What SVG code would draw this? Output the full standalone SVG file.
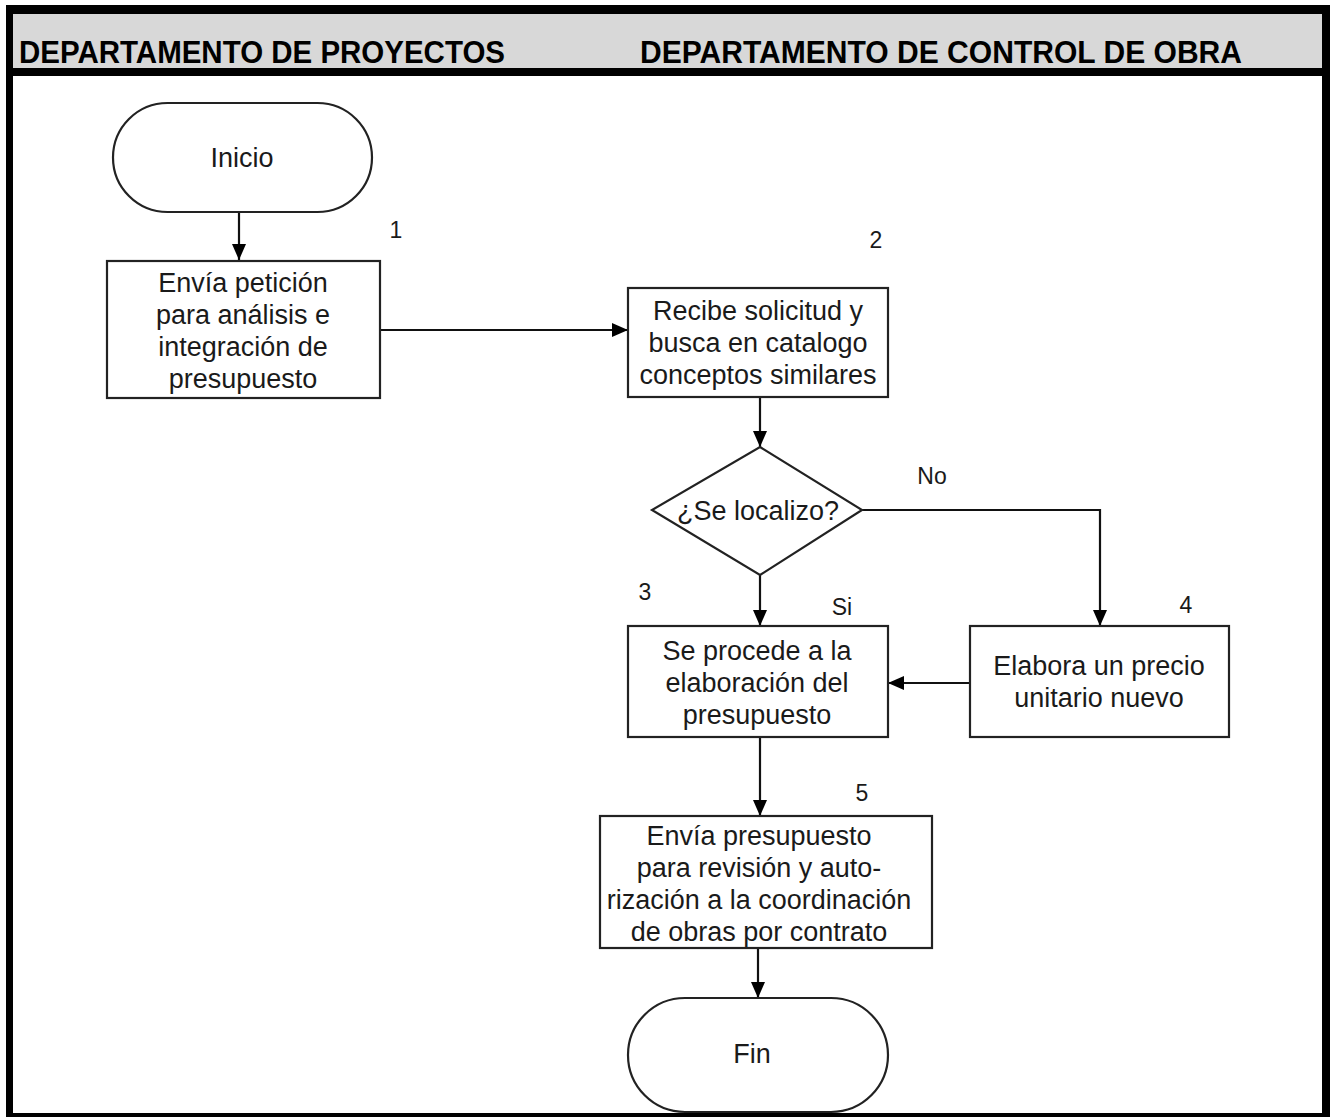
<svg xmlns="http://www.w3.org/2000/svg" width="1330" height="1117" viewBox="0 0 1330 1117">
  <style>
    .lane { font-family: "Liberation Sans", Arial, sans-serif; font-weight: bold; font-size: 31px; fill: #000; }
    .lbl { font-family: "Liberation Sans", Arial, sans-serif; font-size: 27px; fill: #1a1a1a; text-anchor: middle; }
    .num { font-family: "Liberation Sans", Arial, sans-serif; font-size: 23px; fill: #1a1a1a; text-anchor: middle; }
    .shape { fill: #fff; stroke: #222; stroke-width: 2.2; }
    .wire { fill: none; stroke: #111; stroke-width: 2.2; }
  </style>
  <defs>
    <marker id="arrow" viewBox="0 0 16 14" refX="16" refY="7" markerWidth="16" markerHeight="14" markerUnits="userSpaceOnUse" orient="auto">
      <path d="M0,0 L16,7 L0,14 Z" fill="#000"/>
    </marker>
  </defs>

  <!-- frame and lane header -->
  <g id="frame">
    <rect x="6" y="5" width="1330" height="1120" fill="#000"/>
    <rect x="13" y="14" width="1309" height="54" fill="#d8d8d8"/>
    <rect x="13" y="76" width="1309" height="1037" fill="#fff"/>
    <text class="lane" x="19" y="63" textLength="486" lengthAdjust="spacingAndGlyphs">DEPARTAMENTO DE PROYECTOS</text>
    <text class="lane" x="640" y="63" textLength="602" lengthAdjust="spacingAndGlyphs">DEPARTAMENTO DE CONTROL DE OBRA</text>
  </g>

  <!-- connectors -->
  <g id="connectors">
    <line class="wire" x1="239" y1="212" x2="239" y2="260" marker-end="url(#arrow)"/>
    <line class="wire" x1="380" y1="330" x2="628" y2="330" marker-end="url(#arrow)"/>
    <line class="wire" x1="760" y1="397" x2="760" y2="447" marker-end="url(#arrow)"/>
    <polyline class="wire" points="862,510 1100,510 1100,626" marker-end="url(#arrow)"/>
    <line class="wire" x1="760" y1="575" x2="760" y2="626" marker-end="url(#arrow)"/>
    <line class="wire" x1="970" y1="683" x2="888" y2="683" marker-end="url(#arrow)"/>
    <line class="wire" x1="760" y1="737" x2="760" y2="816" marker-end="url(#arrow)"/>
    <line class="wire" x1="758" y1="948" x2="758" y2="998" marker-end="url(#arrow)"/>
    <text class="num" x="932" y="484">No</text>
    <text class="num" x="842" y="615">Si</text>
  </g>

  <g id="inicio">
    <rect class="shape" x="113" y="103" width="259" height="109" rx="54.5" ry="54.5"/>
    <text class="lbl" x="242" y="167">Inicio</text>
  </g>

  <g id="paso1">
    <rect class="shape" x="107" y="261" width="273" height="137"/>
    <text class="lbl" x="243" y="292">Envía petición</text>
    <text class="lbl" x="243" y="324">para análisis e</text>
    <text class="lbl" x="243" y="356">integración de</text>
    <text class="lbl" x="243" y="388">presupuesto</text>
    <text class="num" x="396" y="238">1</text>
  </g>

  <g id="paso2">
    <rect class="shape" x="628" y="288" width="260" height="109"/>
    <text class="lbl" x="758" y="320">Recibe solicitud y</text>
    <text class="lbl" x="758" y="352">busca en catalogo</text>
    <text class="lbl" x="758" y="384">conceptos similares</text>
    <text class="num" x="876" y="248">2</text>
  </g>

  <g id="decision">
    <polygon class="shape" points="760,447 862,510 760,575 652,510"/>
    <text class="lbl" x="758" y="520">¿Se localizo?</text>
  </g>

  <g id="paso3">
    <rect class="shape" x="628" y="626" width="260" height="111"/>
    <text class="lbl" x="757" y="660">Se procede a la</text>
    <text class="lbl" x="757" y="692">elaboración del</text>
    <text class="lbl" x="757" y="724">presupuesto</text>
    <text class="num" x="645" y="600">3</text>
  </g>

  <g id="paso4">
    <rect class="shape" x="970" y="626" width="259" height="111"/>
    <text class="lbl" x="1099" y="675">Elabora un precio</text>
    <text class="lbl" x="1099" y="707">unitario nuevo</text>
    <text class="num" x="1186" y="613">4</text>
  </g>

  <g id="paso5">
    <rect class="shape" x="600" y="816" width="332" height="132"/>
    <text class="lbl" x="759" y="845">Envía presupuesto</text>
    <text class="lbl" x="759" y="877">para revisión y auto-</text>
    <text class="lbl" x="759" y="909">rización a la coordinación</text>
    <text class="lbl" x="759" y="941">de obras por contrato</text>
    <text class="num" x="862" y="801">5</text>
  </g>

  <g id="fin">
    <rect class="shape" x="628" y="998" width="260" height="114" rx="57" ry="57"/>
    <text class="lbl" x="752" y="1063">Fin</text>
  </g>
</svg>
